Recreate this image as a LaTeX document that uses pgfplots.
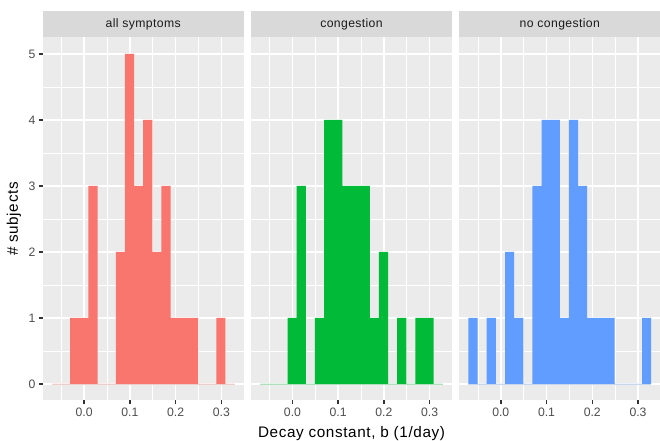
\documentclass[border=0pt]{standalone}
\usepackage{fontspec}
\setmainfont{Liberation Sans}
\newfontfamily\widetitle{Liberation Sans}[LetterSpace=4]
\newfontfamily\widestrip{Liberation Sans}[LetterSpace=3]
\usepackage{pgfplots}
\pgfplotsset{compat=1.18}
\definecolor{bg}{HTML}{EBEBEB}
\definecolor{stripc}{HTML}{D9D9D9}
\definecolor{striptext}{HTML}{1A1A1A}
\definecolor{tlc}{HTML}{4D4D4D}
\definecolor{tickc}{HTML}{333333}
\definecolor{c1}{HTML}{F8766D}
\definecolor{c2}{HTML}{00BA38}
\definecolor{c3}{HTML}{619CFF}
\pgfplotsset{
 panel/.style={
  scale only axis, width=144.72pt, height=261.36pt, anchor=south west,
  xmin=-0.0906, xmax=0.3488, ymin=-0.25, ymax=5.25,
  axis background/.style={fill=bg},
  axis line style={draw=none},
  xtick={0,0.1,0.2,0.3}, xticklabels={0.0,0.1,0.2,0.3},
  minor xtick={-0.05,0.05,0.15,0.25},
  ytick={0,1,2,3,4,5}, yticklabels={0,1,2,3,4,5},
  minor ytick={0.5,1.5,2.5,3.5,4.5},
  grid=both,
  major grid style={white, line width=1.07pt},
  minor grid style={white, line width=0.53pt},
  tick align=outside, major tick length=2.75pt, minor tick length=0pt,
  xtick pos=left, ytick pos=left,
  tick style={color=tickc, line width=1.07pt},
  tick label style={font=\fontsize{8.8}{10}\selectfont, text=tlc},
  xticklabel style={anchor=north, inner sep=0pt, yshift=-2.2pt},
  yticklabel style={anchor=east, inner sep=0pt, xshift=-2.2pt},
 },
 inner/.style={yticklabels={}, ytick style={draw=none}},
}
\begin{document}
\begin{tikzpicture}
\path[use as bounding box] (0,0) rectangle (475.2pt,317.52pt);
% panel 1
\begin{axis}[panel, name=p1, at={(30.74pt,29.16pt)}]
\addplot[color=c1!25!bg, line width=0.6pt, forget plot] coordinates {(-0.0706,0) (0.3288,0)};
\addplot[const plot, fill=c1, draw=none] coordinates {
(-0.0706,0) (-0.0506,0) (-0.0307,1) (-0.0107,1) (0.0093,3) (0.0293,0) (0.0492,0) (0.0692,2) (0.0892,5) (0.1091,3)
(0.1291,4) (0.1491,2) (0.1690,3) (0.1890,1) (0.2090,1) (0.2290,1) (0.2489,0) (0.2689,0) (0.2889,1) (0.3088,0) (0.3288,0)
} \closedcycle;
\end{axis}
% panel 2
\begin{axis}[panel, inner, name=p2, at={(180.72pt,29.16pt)}]
\addplot[color=c2!25!bg, line width=0.6pt, forget plot] coordinates {(-0.0706,0) (0.3288,0)};
\addplot[const plot, fill=c2, draw=none] coordinates {
(-0.0706,0) (-0.0506,0) (-0.0307,0) (-0.0107,1) (0.0093,3) (0.0293,0) (0.0492,1) (0.0692,4) (0.0892,4) (0.1091,3)
(0.1291,3) (0.1491,3) (0.1690,1) (0.1890,2) (0.2090,0) (0.2290,1) (0.2489,0) (0.2689,1) (0.2889,1) (0.3088,0) (0.3288,0)
} \closedcycle;
\end{axis}
% panel 3
\begin{axis}[panel, inner, name=p3, at={(330.70pt,29.16pt)}]
\addplot[color=c3!25!bg, line width=0.6pt, forget plot] coordinates {(-0.0706,0) (0.3288,0)};
\addplot[const plot, fill=c3, draw=none] coordinates {
(-0.0706,1) (-0.0506,0) (-0.0307,1) (-0.0107,0) (0.0093,2) (0.0293,1) (0.0492,0) (0.0692,3) (0.0892,4) (0.1091,4)
(0.1291,1) (0.1491,4) (0.1690,3) (0.1890,1) (0.2090,1) (0.2290,1) (0.2489,0) (0.2689,0) (0.2889,0) (0.3088,1) (0.3288,1)
} \closedcycle;
\end{axis}
% strips
\foreach \p/\t in {p1/all symptoms, p2/congestion, p3/no congestion}{
  \fill[stripc] (\p.north west) rectangle ([yshift=19.08pt]\p.north east);
  \node[text=striptext, font=\widestrip\fontsize{8.8}{10}\selectfont, anchor=center] at ([yshift=9.54pt]\p.north) {\t};
}
% axis titles
\node[font=\widetitle\fontsize{11}{13}\selectfont, anchor=base] at (253.08pt,2.7pt) {Decay constant, b (1/day)};
\node[font=\widetitle\fontsize{11}{13}\selectfont, rotate=90, anchor=center] at (10.08pt,159.84pt) {\# subjects};
\end{tikzpicture}
\end{document}
